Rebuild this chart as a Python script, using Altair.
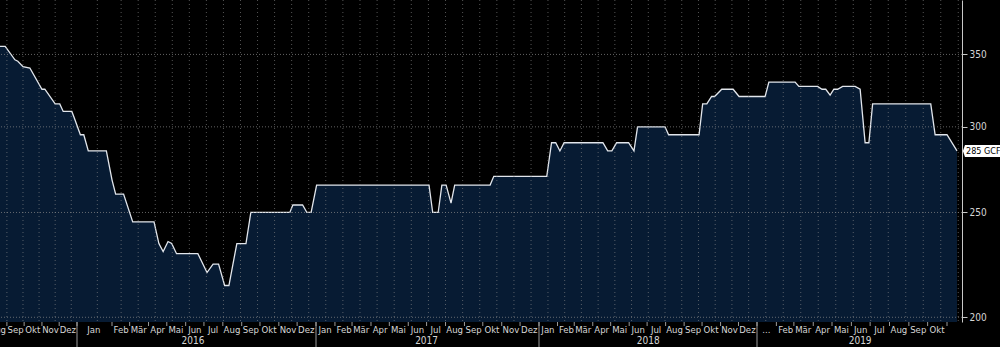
import altair as alt
import pandas as pd

# ---------------- series ----------------
dates = [
    "2015-08-20", "2015-08-29", "2015-09-15", "2015-09-20", "2015-09-29", "2015-10-11",
    "2015-11-01", "2015-11-06", "2015-11-24", "2015-12-02", "2015-12-08", "2015-12-23",
    "2015-12-27", "2016-01-04", "2016-01-07", "2016-01-11", "2016-01-27", "2016-02-01",
    "2016-02-07", "2016-02-20", "2016-03-06", "2016-04-10", "2016-04-18", "2016-04-25",
    "2016-05-03", "2016-05-09", "2016-05-17", "2016-06-21", "2016-07-06", "2016-07-16",
    "2016-07-25", "2016-08-04", "2016-08-11", "2016-08-24", "2016-09-08", "2016-09-16",
    "2016-11-19", "2016-11-24", "2016-12-10", "2016-12-17", "2016-12-24", "2017-01-02",
    "2017-07-05", "2017-07-11", "2017-07-20", "2017-07-26", "2017-08-02", "2017-08-10",
    "2017-08-16", "2017-10-13", "2017-10-19", "2018-01-14", "2018-01-22", "2018-01-29",
    "2018-02-05", "2018-02-12", "2018-04-18", "2018-04-26", "2018-05-03", "2018-05-11",
    "2018-05-31", "2018-06-09", "2018-06-15", "2018-07-31", "2018-08-06", "2018-09-26",
    "2018-10-02", "2018-10-09", "2018-10-17", "2018-10-22", "2018-11-03", "2018-11-22",
    "2018-12-02", "2019-01-14", "2019-01-20", "2019-03-03", "2019-03-09", "2019-04-08",
    "2019-04-15", "2019-04-21", "2019-04-28", "2019-05-04", "2019-05-10", "2019-05-18",
    "2019-06-07", "2019-06-15", "2019-06-23", "2019-06-29", "2019-07-05", "2019-10-06",
    "2019-10-13", "2019-11-01", "2019-11-17",
]
values = [
    356, 356, 346, 345, 341, 340,
    325, 325, 315, 315, 310, 310,
    306, 295, 295, 285, 285, 268,
    260, 260, 245, 245, 234, 230,
    235, 234, 229, 229, 220, 224,
    224, 214, 214, 234, 234, 250,
    250, 254, 254, 250, 250, 265,
    265, 250, 250, 265, 265, 255,
    265, 265, 270, 270, 290, 290,
    285, 290, 290, 285, 285, 290,
    290, 285, 300, 300, 295, 295,
    315, 315, 320, 320, 325, 325,
    320, 320, 330, 330, 327, 327,
    325, 325, 321, 325, 325, 327,
    327, 325, 290, 290, 315, 315,
    295, 295, 285,
]

# ---------------- axis texts ----------------
month_names = ["Jan", "Feb", "Mär", "Apr", "Mai", "Jun", "Jul", "Aug", "Sep", "Okt", "Nov", "Dez"]
year_labels = ["2016", "2017", "2018", "2019"]
year_label_dates = ["2016-06-13", "2017-07-01", "2018-07-03", "2019-06-15"]
year_starts = ["2016-01-01", "2017-01-01", "2018-01-01", "2019-01-01"]
y_ticks = [200, 250, 300, 350]
last_label = "285 GCFP"

FONT = "Liberation Sans Narrow, DejaVu Sans Condensed, Liberation Sans, sans-serif"
TXT = "#d6d6d6"
FS = 9.5

series = pd.DataFrame({"date": dates, "value": values})

month_starts = pd.date_range("2015-08-01", "2019-10-01", freq="MS")
mlab = pd.DataFrame({
    "date": [(m + pd.Timedelta(days=15)).strftime("%Y-%m-%d") for m in month_starts],
    "label": ["..." if (m.year == 2019 and m.month == 1) else month_names[m.month - 1]
              for m in month_starts],
})
mticks = pd.DataFrame({"date": [d.strftime("%Y-%m-%d")
                                for d in pd.date_range("2015-09-01", "2019-11-01", freq="MS")]})
ysep = pd.DataFrame({"date": year_starts})
ylab = pd.DataFrame({"date": year_label_dates, "label": year_labels})
vgrid = pd.DataFrame({"date": [d.strftime("%Y-%m-%d")
                               for d in pd.date_range("2015-09-01", "2019-11-25", freq="28D")]})
hgrid = pd.DataFrame({"value": y_ticks})
last = pd.DataFrame({"date": [dates[-1]], "value": [values[-1]], "label": [last_label]})


def ms(s):
    return int(pd.Timestamp(s, tz="UTC").value // 10**6)


# piecewise time axis (the reference spaces its observations unevenly)
xscale = alt.Scale(
    type="linear",
    domain=[ms("2015-08-20"), ms("2016-01-01"), ms("2016-02-01"), ms("2017-01-01"),
            ms("2018-01-01"), ms("2019-01-01"), ms("2019-11-01"), ms("2019-11-25")],
    range=[0, 77, 112, 316, 539, 757, 947, 962],
    nice=False, zero=False,
)
yscale = alt.Scale(type="log", domain=[198, 393], nice=False)

T = "time(toDate(datum.date))"
XQ = alt.X("t:Q", axis=None)

area = alt.Chart(series).transform_calculate(t=T).mark_area(
    color="#0a2749",
    line={"color": "#e2e6ec", "strokeWidth": 1.3},
).encode(
    x=alt.X("t:Q", scale=xscale, axis=None),
    y=alt.Y("value:Q", scale=yscale,
            axis=alt.Axis(orient="right", values=y_ticks, format="d", title=None, grid=False,
                          domainColor="#c8c8c8", domainWidth=1, tickColor="#c8c8c8",
                          tickSize=5, labelColor=TXT, labelFont=FONT, labelFontSize=10,
                          labelPadding=2)),
    y2=alt.datum(198),
)

vg = alt.Chart(vgrid).transform_calculate(t=T).mark_rule(
    color="#8c8c8c", strokeDash=[1, 3], opacity=0.6, strokeWidth=1).encode(x=XQ)
hg = alt.Chart(hgrid).mark_rule(color="#8c8c8c", strokeDash=[1, 2], opacity=0.7,
                                strokeWidth=1).encode(y=alt.Y("value:Q"))

mt = alt.Chart(mticks).transform_calculate(t=T).mark_rule(color="#9a9a9a").encode(
    x=XQ, y=alt.value(322), y2=alt.value(326))
ys = alt.Chart(ysep).transform_calculate(t=T).mark_rule(color="#9a9a9a").encode(
    x=XQ, y=alt.value(322), y2=alt.value(347))

ml = alt.Chart(mlab).transform_calculate(t=T).mark_text(
    font=FONT, fontSize=FS, color=TXT, baseline="middle").encode(
    x=XQ, y=alt.value(330), text="label:N")
yl = alt.Chart(ylab).transform_calculate(t=T).mark_text(
    font=FONT, fontSize=FS + 0.5, color=TXT, baseline="middle").encode(
    x=XQ, y=alt.value(341), text="label:N")

tag_shape = "M -1.09 0 L -1 -0.26 L 1 -0.26 L 1 0.26 L -1 0.26 Z"
tag = alt.Chart(last).transform_calculate(t=T).mark_point(
    shape=tag_shape, size=46 * 46, filled=True, color="white", opacity=1, xOffset=31).encode(
    x=XQ, y=alt.Y("value:Q"))
tagtxt = alt.Chart(last).transform_calculate(t=T).mark_text(
    font=FONT, fontSize=9, color="black", align="left", baseline="middle", dx=9).encode(
    x=XQ, y=alt.Y("value:Q"), text="label:N")

chart = alt.layer(area, vg, hg, mt, ys, ml, yl, tag, tagtxt).properties(
    width=962, height=322,
    background="black",
    padding={"left": 0, "top": 0, "right": 38, "bottom": 25},
    autosize=alt.AutoSizeParams(type="none"),
).configure_view(stroke=None)

chart.save("out.html", embed_options={"renderer": "svg", "actions": False})
